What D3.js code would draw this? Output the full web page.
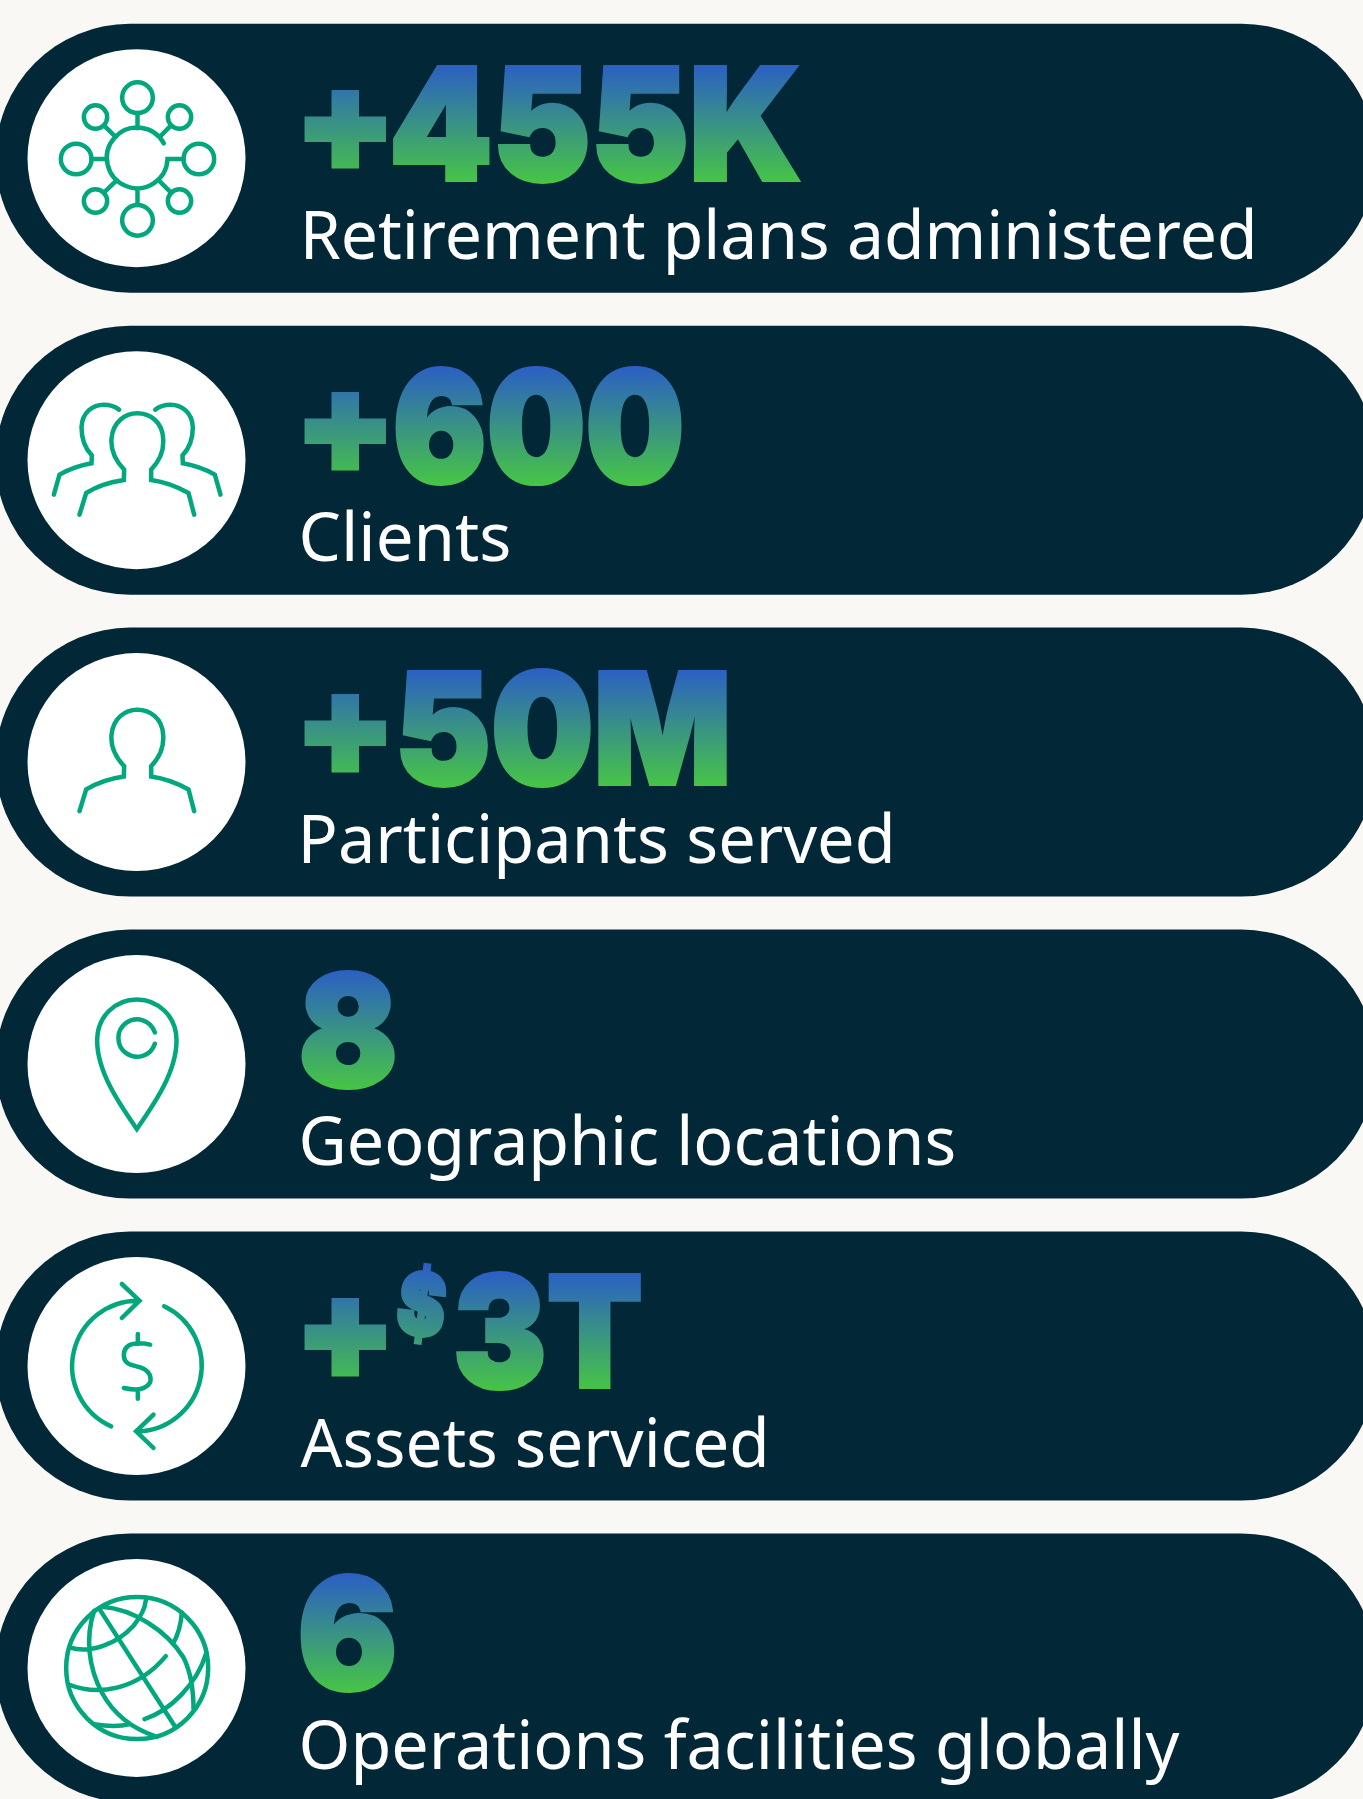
<!DOCTYPE html>
<html>
<head>
<meta charset="utf-8">
<script src="https://cdn.jsdelivr.net/npm/d3@7"></script>
<style>
html, body { margin: 0; padding: 0; background: #f9f8f4; }
svg { display: block; }
</style>
</head>
<body>
<div id="chart"></div>
<script>
// data
var valuePrefix = ['+', '+', '+', '', '+', ''];
var valueCurrency = ['', '', '', '', '$', ''];
var valueNumber = ['455K', '600', '50M', '8', '3T', '6'];
var metricLabel = [
    'Retirement plans administered',
    'Clients',
    'Participants served',
    'Geographic locations',
    'Assets serviced',
    'Operations facilities globally'
];
var iconName = ['network', 'group', 'person', 'pin', 'money', 'globe'];

// layout, x extents of the painted text
var numberLeft = [393, 395, 400, 301, 456, 300];
var numberRight = [800, 682, 727, 395, 641, 395];
var labelLeft = [305.5, 302.5, 303.5, 302.5, 300.5, 302.5];
var labelRight = [1253, 509, 891, 954, 765, 1180];

var width = 1363, height = 1799;
var green = '#03a77d', navy = '#022737';

var svg = d3.select('#chart').append('svg')
    .attr('width', width)
    .attr('height', height);

svg.append('rect')
    .attr('width', width)
    .attr('height', height)
    .attr('fill', '#f9f8f4');

var defs = svg.append('defs');

var y = d3.scaleBand()
    .domain(d3.range(metricLabel.length))
    .range([23.7, 23.7 + 5 * 301.95 + 269])
    .paddingInner(0.1091);

var x = d3.scaleLinear().domain([0, 1]).range([-4.5, 1376]);

///////////////////////////////////////////////////////////////
// Text fitting
///////////////////////////////////////////////////////////////

var ctx = document.createElement('canvas').getContext('2d');

function ink(str, font) {
    ctx.font = font;
    var m = ctx.measureText(str);
    return {
        left: -m.actualBoundingBoxLeft,
        right: m.actualBoundingBoxRight,
        top: -m.actualBoundingBoxAscent,
        bottom: m.actualBoundingBoxDescent
    };
}

var bigFont = '900 200px Inter';
var labelFont = '400 68px "Noto Sans"';
var bigStroke = 4;

// heavy gradient text squeezed into a box
function bigText(g, str, id, x0, x1, top, bottom, gradTop, gradBottom, angle) {
    var b = ink(str, bigFont);
    var sx = (x1 - x0 - bigStroke) / (b.right - b.left);
    var sy = (bottom - top - bigStroke) / (b.bottom - b.top);
    var tx = x0 + bigStroke / 2 - b.left * sx;
    var ty = bottom - bigStroke / 2 - b.bottom * sy;

    var grad = defs.append('linearGradient')
        .attr('id', id)
        .attr('gradientUnits', 'userSpaceOnUse')
        .attr('x1', 0).attr('x2', 0)
        .attr('y1', (gradTop - ty) / sy)
        .attr('y2', (gradBottom - ty) / sy);
    grad.append('stop').attr('offset', 0).attr('stop-color', '#2b5fc4');
    grad.append('stop').attr('offset', 1).attr('stop-color', '#47c545');

    var rot = angle ? 'rotate(' + angle + ',' + (x0 + x1) / 2 + ',' + (top + bottom) / 2 + ') ' : '';
    g.append('text')
        .attr('transform', rot + 'translate(' + tx + ',' + ty + ') scale(' + sx + ',' + sy + ')')
        .style('font', bigFont)
        .attr('fill', 'url(#' + id + ')')
        .attr('stroke', 'url(#' + id + ')')
        .attr('stroke-width', bigStroke / ((sx + sy) / 2))
        .attr('stroke-linejoin', 'miter')
        .text(str);
}

///////////////////////////////////////////////////////////////
// Icons, traced in a 720 box around the disc centre
///////////////////////////////////////////////////////////////

var personPath = 'M178,523 L198,458 C230,438 270,425 311,419 L312,388 C280,355 272,320 274,295 ' +
    'C278,245 315,219 351,219 C390,219 427,245 429,295 C431,320 425,355 393,388 L393,419 ' +
    'C435,425 470,438 505,458 L522,523';

var icons = {
    network: { cy: 353.5, draw: function (g) {
        [[352, 172, 46], [352, 540, 46], [168, 356, 46], [536, 356, 46],
         [226, 230, 35], [478, 230, 35], [226, 482, 35], [478, 482, 35]].forEach(function (c) {
            g.append('circle').attr('cx', c[0]).attr('cy', c[1]).attr('r', c[2]);
        });
        g.append('path').attr('d', 'M431,309 A91,91 0 1 0 442,356 L490,356 ' +
            'M352,218 L352,264 M352,448 L352,494 M214,356 L260,356 ' +
            'M252,256 L287,290 M452,256 L418,290 M252,456 L287,422 M452,456 L418,422');
    } },
    group: { cy: 359.5, draw: function (g) {
        g.append('path').attr('d', personPath);
        g.append('path').attr('d', 'M101,463 L118,403 C150,385 180,375 214,369 L215,345 ' +
            'C190,320 184,290 184,260 C186,215 220,193 250,193 C270,193 285,198 297,208');
        g.append('path').attr('d', 'M601,463 L584,403 C552,385 522,375 488,369 L487,345 ' +
            'C512,320 518,290 518,260 C516,215 482,193 452,193 C432,193 417,198 405,208');
    } },
    person: { cy: 366, draw: function (g) {
        g.append('path').attr('d', personPath).attr('transform', 'translate(0,-10)');
    } },
    pin: { cy: 357, draw: function (g) {
        g.append('path').attr('d', 'M350,552 C300,480 230,380 231,285 C231,215 285,163 350,163 ' +
            'C415,163 469,215 469,285 C470,380 400,480 350,552 Z');
        g.append('path').attr('d', 'M404,262 A56,56 0 1 0 404,296');
    } },
    money: { cy: 349, draw: function (g) {
        g.append('path').attr('d', 'M358,153 A197,197 0 0 0 273,530 M432,170 A197,197 0 0 1 348,545 ' +
            'M305,103 L358,153 L305,205 M400,495 L348,545 L400,595');
        g.append('path').attr('d', 'M390,285 C360,278 310,275 311,318 C312,350 345,345 370,357 ' +
            'C395,370 395,395 385,405 C365,425 335,420 311,415 M353,253 L353,283 M353,420 L353,447');
    } },
    globe: { cy: 351.5, draw: function (g) {
        g.append('circle').attr('cx', 351).attr('cy', 352).attr('r', 213);
        g.append('path').attr('d', 'M238,175 L465,528 ' +
            'M245,168 C340,175 440,240 490,320 C515,370 520,420 520,475 ' +
            'M222,180 C195,260 205,350 245,425 C280,490 340,535 410,558 ' +
            'M148,290 C210,310 290,280 340,225 C360,200 375,170 377,148 ' +
            'M148,402 C230,435 350,420 437,316 ' +
            'M373,505 C450,480 530,400 558,308 ' +
            'M458,280 C475,250 483,215 485,185 ' +
            'M222,520 C260,527 300,527 330,520');
    } }
};

///////////////////////////////////////////////////////////////
// Rows
///////////////////////////////////////////////////////////////

var rows = svg.selectAll('.row')
    .data(metricLabel)
    .enter()
    .append('g')
    .attr('class', 'row');

rows.append('rect')
    .attr('x', x(0))
    .attr('y', (d, i) => y(i))
    .attr('width', x(1) - x(0))
    .attr('height', y.bandwidth())
    .attr('rx', y.bandwidth() / 2)
    .attr('ry', y.bandwidth() / 2)
    .attr('fill', navy);

rows.each(function (d, i) {
    var row = d3.select(this);
    var cy = y(i) + y.bandwidth() / 2;

    // disc and icon
    row.append('circle')
        .attr('cx', 136.5)
        .attr('cy', cy)
        .attr('r', 109)
        .attr('fill', '#fff');

    var icon = icons[iconName[i]];
    var g = row.append('g')
        .attr('transform', 'translate(' + (136.5 - 349 / 3) + ',' + (cy - icon.cy / 3) + ') scale(' + 1 / 3 + ')')
        .attr('fill', 'none')
        .attr('stroke', green)
        .attr('stroke-width', 13.5)
        .attr('stroke-linecap', 'round');
    icon.draw(g);

    // big value
    var top = cy - 94, bottom = cy + 25;
    if (valuePrefix[i]) {
        bigText(row, valuePrefix[i], 'p' + i, 304, 386, cy - 68, cy + 11, top, bottom);
    }
    if (valueCurrency[i]) {
        bigText(row, valueCurrency[i], 'c' + i, 398, 446, cy - 103, cy - 21, top - 8, bottom, 7);
    }
    bigText(row, valueNumber[i], 'n' + i, numberLeft[i], numberRight[i], top, bottom, top, bottom);

    // label, pressed sideways to the measured width
    var b = ink(d, labelFont);
    var sx = (labelRight[i] - labelLeft[i]) / (b.right - b.left);
    row.append('text')
        .attr('transform', 'translate(' + (labelLeft[i] - b.left * sx) + ',' + (cy + 101) + ') scale(' + sx + ',1)')
        .style('font', labelFont)
        .attr('fill', '#fff')
        .text(d);
});
</script>
</body>
</html>
